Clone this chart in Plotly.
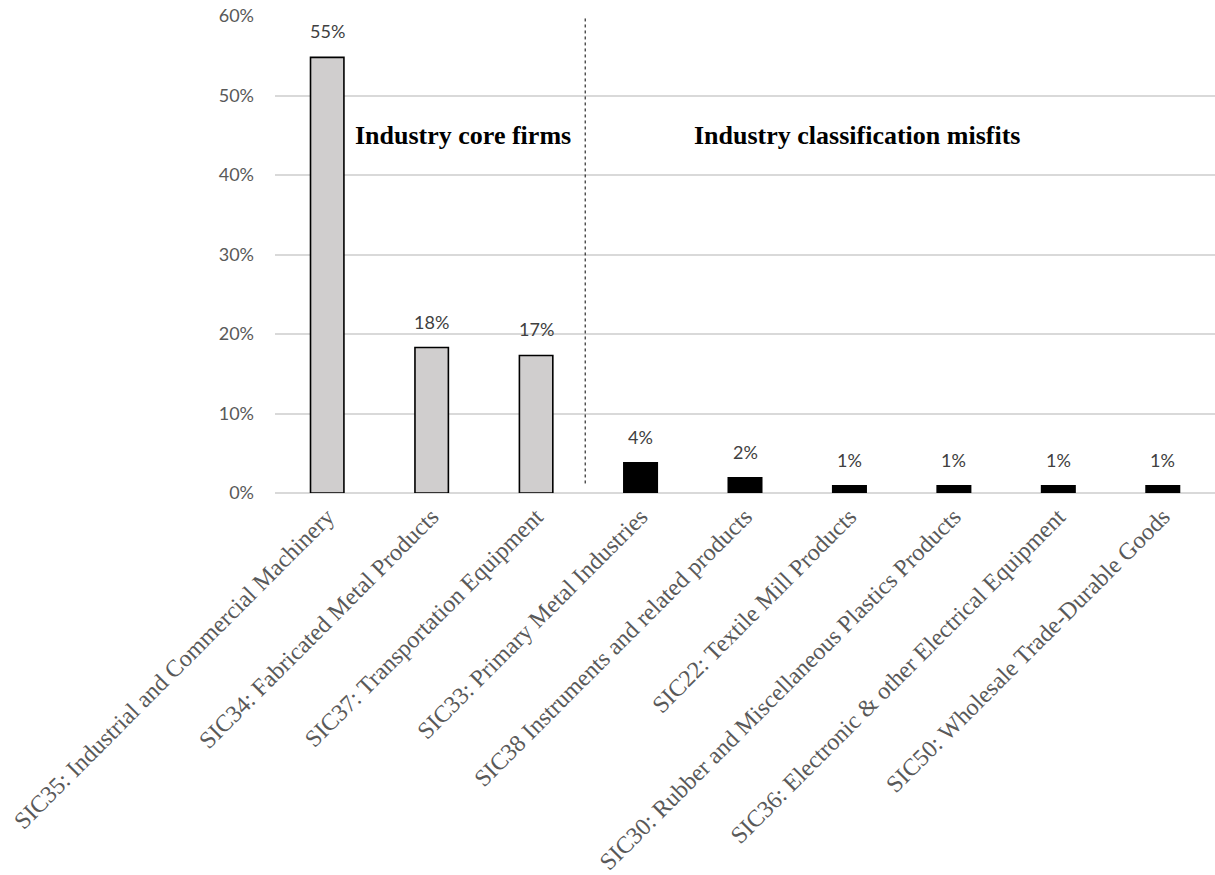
import plotly.graph_objects as go

categories = [
    "SIC35: Industrial and Commercial Machinery",
    "SIC34: Fabricated Metal Products",
    "SIC37: Transportation Equipment",
    "SIC33: Primary Metal Industries",
    "SIC38 Instruments and related products",
    "SIC22: Textile Mill Products",
    "SIC30: Rubber and Miscellaneous Plastics Products",
    "SIC36: Electronic & other Electrical Equipment",
    "SIC50: Wholesale Trade-Durable Goods",
]
values = [54.8, 18.3, 17.3, 3.8, 1.9, 0.9, 0.9, 0.9, 0.9]
labels = ["55%", "18%", "17%", "4%", "2%", "1%", "1%", "1%", "1%"]
groups = ["core", "core", "core", "misfit", "misfit", "misfit", "misfit", "misfit", "misfit"]
y_ticks = [0, 10, 20, 30, 40, 50, 60]
y_ticklabels = ["0%", "10%", "20%", "30%", "40%", "50%", "60%"]

fill = ["#d0cece" if g == "core" else "#000000" for g in groups]

fig = go.Figure()
fig.add_trace(go.Bar(
    x=categories,
    y=values,
    marker=dict(color=fill, line=dict(color="#000000", width=1.6)),
    width=0.32,
))

for c, v, t in zip(categories, values, labels):
    fig.add_annotation(x=c, y=v, text=t, showarrow=False, yanchor="bottom", yshift=13,
                       font=dict(family="Lato, Liberation Sans, sans-serif", size=18, color="#404040"))

fig.add_shape(type="line", xref="x", yref="y",
              x0=2.47, x1=2.47, y0=1.2, y1=60.3,
              line=dict(color="#000000", width=1, dash="dot"))

fig.add_annotation(x=1.3, y=45, xref="x", yref="y", text="<b>Industry core firms</b>",
                   showarrow=False,
                   font=dict(family="Liberation Serif, Times New Roman, serif", size=26, color="#000000"))
fig.add_annotation(x=5.07, y=45, xref="x", yref="y", text="<b>Industry classification misfits</b>",
                   showarrow=False,
                   font=dict(family="Liberation Serif, Times New Roman, serif", size=26, color="#000000"))

fig.update_layout(
    width=1215, height=875,
    margin=dict(l=275, r=0, t=16, b=382),
    plot_bgcolor="white", paper_bgcolor="white",
    showlegend=False,
)
fig.update_xaxes(
    tickangle=-45,
    tickfont=dict(family="Liberation Serif, Times New Roman, serif", size=24, color="#595959"),
    showgrid=False, showline=False, ticks="",
    range=[-0.5, 8.5], automargin=False,
    ticklabelstandoff=4,
)
fig.update_yaxes(
    range=[0, 60],
    tickvals=y_ticks, ticktext=y_ticklabels,
    tickfont=dict(family="Lato, Liberation Sans, sans-serif", size=18, color="#595959"),
    showgrid=True, gridcolor="#d9d9d9", gridwidth=1.5,
    zeroline=True, zerolinecolor="#d9d9d9", zerolinewidth=1.5,
    showline=False, ticks="", automargin=False,
    ticklabelstandoff=20,
)

fig.write_html("out.html")
